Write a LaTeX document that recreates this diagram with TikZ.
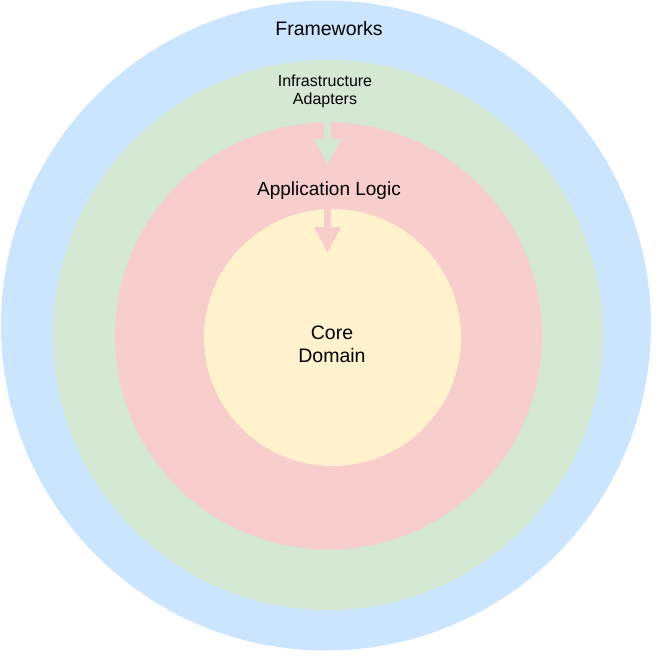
\documentclass[tikz,border=0pt]{standalone}
\usepackage{fontspec}
\setmainfont{Liberation Sans}
\usetikzlibrary{arrows.meta}
\definecolor{fwblue}{HTML}{CCE5FF}
\definecolor{infgreen}{HTML}{D5E8D4}
\definecolor{appred}{HTML}{F8CECC}
\definecolor{coreyellow}{HTML}{FFF2CC}
\begin{document}
\begin{tikzpicture}[x=1pt,y=-1pt,
  ring/.style={circle, inner sep=0pt, draw=none},
  flow/.style={line width=7pt, -{Triangle[width=25pt,length=26pt]}},
  lbl/.style={inner sep=0pt, align=center, text=black}]
\useasboundingbox (0,0) rectangle (659,661);
\node[ring, fill=fwblue, minimum size=650pt] (frameworks) at (326,325.5) {};
\node[ring, fill=infgreen, minimum size=550pt] (infra) at (328,335) {};
\node[ring, fill=appred, minimum size=427pt] (app) at (328.5,336) {};
\node[ring, fill=coreyellow, minimum size=257pt] (core) at (332.5,337.5) {};
\coordinate (a1s) at (327.5,119);
\coordinate (a1e) at (327.5,165);
\coordinate (a2s) at (327.5,205);
\coordinate (a2e) at (327.5,253);
\draw[flow, draw=infgreen, fill=infgreen] (a1s) -- (a1e);
\draw[flow, draw=appred, fill=appred] (a2s) -- (a2e);
\node[lbl, anchor=base, font=\fontsize{19.5}{23.4}\selectfont] (tfw) at (329,36) {Frameworks};
\node[lbl, font=\fontsize{16}{18.5}\selectfont] (tinf) at (325,91.5) {Infrastructure\\Adapters};
\node[lbl, anchor=base, font=\fontsize{19}{23}\selectfont] (tapp) at (329,195) {Application Logic};
\node[lbl, font=\fontsize{19.5}{23.4}\selectfont] (tcore) at (332,344) {Core\\Domain};
\end{tikzpicture}
\end{document}
